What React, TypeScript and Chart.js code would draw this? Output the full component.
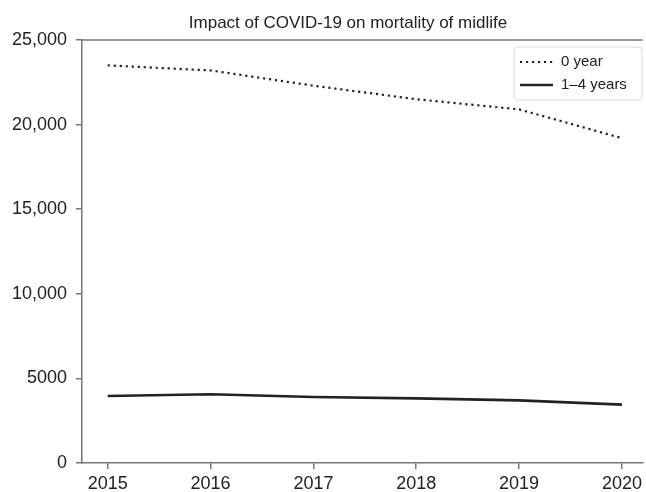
import React, { useEffect, useRef } from "react";
import { Chart, registerables } from "chart.js";

Chart.register(...registerables);

const years = [2015, 2016, 2017, 2018, 2019, 2020];
const yearZero = [23500, 23200, 22300, 21500, 20900, 19200];
const yearsOneToFour = [3960, 4060, 3900, 3820, 3700, 3450];
const seriesLabels = ["0 year", "1\u20134 years"];
const yTicks = [0, 5000, 10000, 15000, 20000, 25000];
const titleText = "Impact of COVID-19 on mortality of midlife";

const FONT = "'Liberation Sans', Arial, Helvetica, sans-serif";

const titlePlugin = {
  id: "customTitle",
  afterDraw(chart: any) {
    const ctx = chart.ctx;
    ctx.save();
    ctx.font = `17px ${FONT}`;
    ctx.fillStyle = "#222";
    ctx.textAlign = "center";
    ctx.textBaseline = "alphabetic";
    ctx.fillText(titleText, 348, 28);
    ctx.restore();
  },
};

const frameTopPlugin = {
  id: "frameTop",
  afterDraw(chart: any) {
    const { ctx, chartArea } = chart;
    ctx.save();
    ctx.strokeStyle = "#777";
    ctx.lineWidth = 1.5;
    ctx.beginPath();
    ctx.moveTo(chartArea.left, chartArea.top);
    ctx.lineTo(chartArea.right, chartArea.top);
    ctx.stroke();
    ctx.restore();
  },
};

const legendPlugin = {
  id: "boxLegend",
  afterDraw(chart: any) {
    const ctx = chart.ctx;
    const x0 = 514, y0 = 47, w = 128, h = 53, r = 4;
    ctx.save();
    ctx.fillStyle = "rgba(255,255,255,0.9)";
    ctx.strokeStyle = "#dcdcdc";
    ctx.lineWidth = 1;
    ctx.beginPath();
    ctx.moveTo(x0 + r, y0);
    ctx.arcTo(x0 + w, y0, x0 + w, y0 + h, r);
    ctx.arcTo(x0 + w, y0 + h, x0, y0 + h, r);
    ctx.arcTo(x0, y0 + h, x0, y0, r);
    ctx.arcTo(x0, y0, x0 + w, y0, r);
    ctx.closePath();
    ctx.fill();
    ctx.stroke();
    const rows = [62, 85];
    chart.data.datasets.forEach((ds: any, i: number) => {
      const y = rows[i];
      ctx.strokeStyle = ds.borderColor;
      ctx.lineWidth = ds.borderWidth;
      ctx.setLineDash(ds.borderDash || []);
      ctx.beginPath();
      ctx.moveTo(520, y);
      ctx.lineTo(553, y);
      ctx.stroke();
      ctx.setLineDash([]);
      ctx.fillStyle = "#222";
      ctx.font = `15px ${FONT}`;
      ctx.textAlign = "left";
      ctx.textBaseline = "middle";
      ctx.fillText(ds.label, 561, y);
    });
    ctx.restore();
  },
};

export default function App() {
  const ref = useRef<HTMLCanvasElement | null>(null);
  useEffect(() => {
    if (!ref.current) return;
    const chart = new Chart(ref.current, {
      type: "line",
      data: {
        datasets: [
          {
            label: seriesLabels[0],
            data: years.map((x, i) => ({ x, y: yearZero[i] })),
            borderColor: "#222",
            borderWidth: 2.2,
            borderDash: [2.2, 3.8],
            pointRadius: 0,
            tension: 0,
            fill: false,
          },
          {
            label: seriesLabels[1],
            data: years.map((x, i) => ({ x, y: yearsOneToFour[i] })),
            borderColor: "#222",
            borderWidth: 2.6,
            pointRadius: 0,
            tension: 0,
            fill: false,
          },
        ],
      },
      options: {
        animation: false,
        responsive: false,
        layout: { padding: { top: 40, right: 1, left: 0, bottom: 0 } },
        plugins: {
          legend: { display: false },
          title: { display: false },
          tooltip: { enabled: false },
        },
        scales: {
          x: {
            type: "linear",
            min: 2014.75,
            max: 2020.2,
            afterBuildTicks: (scale: any) => {
              scale.ticks = years.map((v) => ({ value: v }));
            },
            afterFit: (scale: any) => {
              scale.height = 29;
            },
            grid: {
              drawOnChartArea: false,
              drawTicks: true,
              tickLength: 6,
              color: "#777",
              lineWidth: 1.5,
            },
            border: { display: true, color: "#777", width: 1.5 },
            ticks: {
              padding: 4,
              color: "#222",
              font: { family: FONT, size: 18 },
              maxRotation: 0,
              autoSkip: false,
              callback: (v: any) => String(v),
            },
          },
          y: {
            type: "linear",
            min: 0,
            max: 25000,
            afterBuildTicks: (scale: any) => {
              scale.ticks = yTicks.map((v) => ({ value: v }));
            },
            afterFit: (scale: any) => {
              scale.width = 82;
            },
            grid: {
              drawOnChartArea: false,
              drawTicks: true,
              tickLength: 6,
              color: "#777",
              lineWidth: 1.5,
            },
            border: { display: true, color: "#777", width: 1.5 },
            ticks: {
              padding: 9,
              color: "#222",
              font: { family: FONT, size: 18 },
              callback: (v: any) =>
                v >= 10000 ? Number(v).toLocaleString("en-US") : String(v),
            },
          },
        },
      },
      plugins: [frameTopPlugin, legendPlugin, titlePlugin],
    });
    return () => chart.destroy();
  }, []);
  return (
    <div style={{ position: "fixed", left: 0, top: 0, width: 646, height: 492, background: "#fff" }}>
      <canvas ref={ref} width={646} height={492} style={{ width: 646, height: 492 }} />
    </div>
  );
}
